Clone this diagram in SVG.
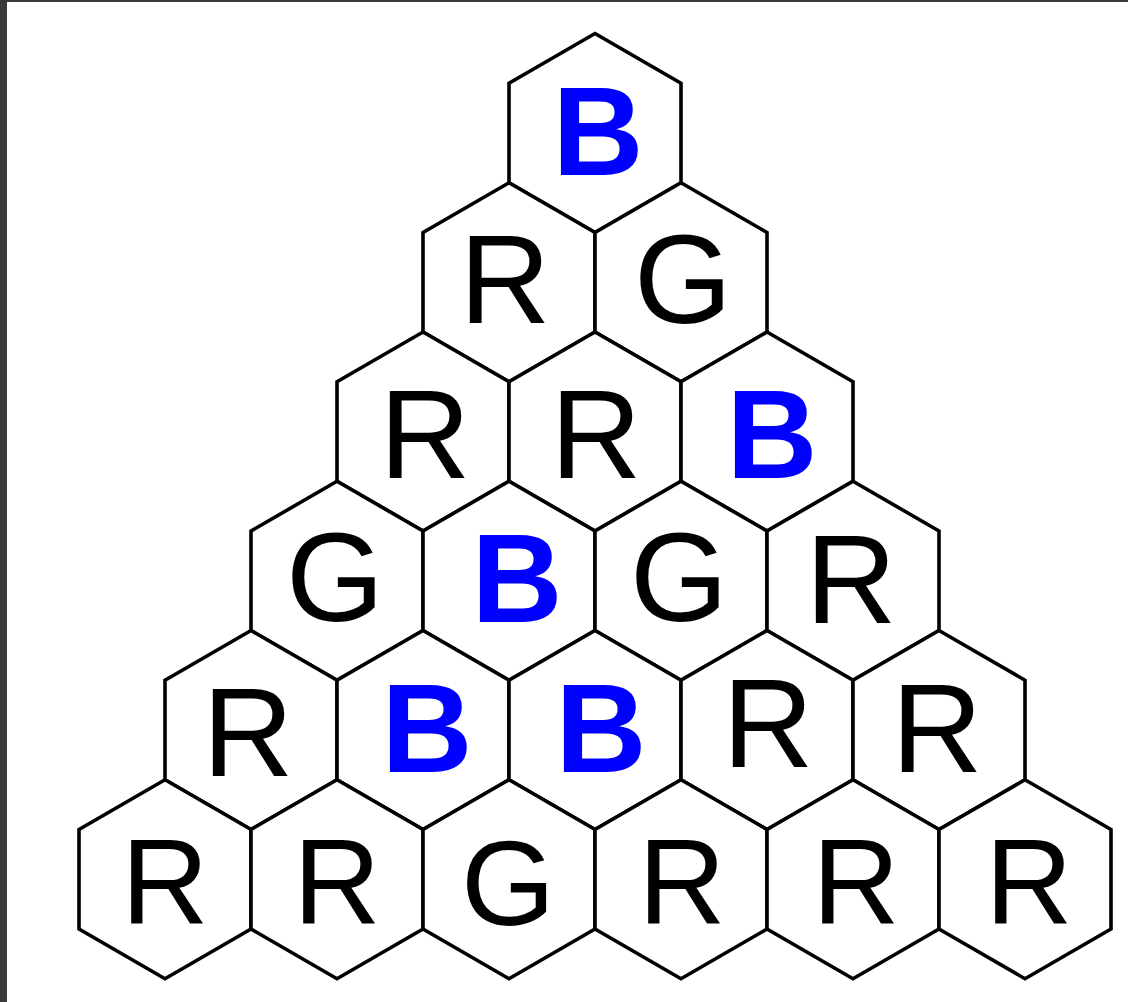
<svg xmlns="http://www.w3.org/2000/svg" xmlns:xlink="http://www.w3.org/1999/xlink" width="1128" height="1002" viewBox="0 0 1128 1002">
<style>
.hex{fill:#ffffff;stroke:#000000;stroke-width:3.6;stroke-linejoin:miter}
.t{font-family:"Liberation Sans",Arial,sans-serif;font-size:126px;text-anchor:middle;fill:#000000}
.b{font-weight:bold;fill:#0000ff}
.s{font-size:121px}
</style>
<defs>
<polygon id="hex" class="hex" points="0,-99.5 86,-49.75 86,49.75 0,99.5 -86,49.75 -86,-49.75"/>
</defs>
<rect x="0" y="0" width="1128" height="1002" fill="#ffffff"/>
<rect x="0" y="0" width="1128" height="2" fill="#3a3a3a"/>
<rect x="0" y="0" width="7" height="1002" fill="#3a3a3a"/>
<g id="connectors"/>
<g id="n0_0"><use xlink:href="#hex" x="595" y="133"/><text class="t b" x="598" y="175">B</text></g>
<g id="n1_0"><use xlink:href="#hex" x="509" y="282.25"/><text class="t" x="505" y="323">R</text></g>
<g id="n1_1"><use xlink:href="#hex" x="681" y="282.25"/><text class="t" x="683" y="323">G</text></g>
<g id="n2_0"><use xlink:href="#hex" x="423" y="431.5"/><text class="t" x="425" y="478">R</text></g>
<g id="n2_1"><use xlink:href="#hex" x="595" y="431.5"/><text class="t" x="596" y="478">R</text></g>
<g id="n2_2"><use xlink:href="#hex" x="767" y="431.5"/><text class="t b" x="772" y="478">B</text></g>
<g id="n3_0"><use xlink:href="#hex" x="337" y="580.75"/><text class="t" x="335" y="621">G</text></g>
<g id="n3_1"><use xlink:href="#hex" x="509" y="580.75"/><text class="t b" x="517" y="622">B</text></g>
<g id="n3_2"><use xlink:href="#hex" x="681" y="580.75"/><text class="t" x="679" y="621">G</text></g>
<g id="n3_3"><use xlink:href="#hex" x="853" y="580.75"/><text class="t" x="851" y="623">R</text></g>
<g id="n4_0"><use xlink:href="#hex" x="251" y="730"/><text class="t" x="248" y="776">R</text></g>
<g id="n4_1"><use xlink:href="#hex" x="423" y="730"/><text class="t b" x="427" y="772">B</text></g>
<g id="n4_2"><use xlink:href="#hex" x="595" y="730"/><text class="t b" x="601" y="772">B</text></g>
<g id="n4_3"><use xlink:href="#hex" x="767" y="730"/><text class="t" x="768" y="767">R</text></g>
<g id="n4_4"><use xlink:href="#hex" x="939" y="730"/><text class="t" x="937" y="772">R</text></g>
<g id="n5_0"><use xlink:href="#hex" x="165" y="879.25"/><text class="t s" x="165" y="924">R</text></g>
<g id="n5_1"><use xlink:href="#hex" x="337" y="879.25"/><text class="t s" x="337" y="924">R</text></g>
<g id="n5_2"><use xlink:href="#hex" x="509" y="879.25"/><text class="t s" x="508" y="925">G</text></g>
<g id="n5_3"><use xlink:href="#hex" x="681" y="879.25"/><text class="t s" x="682" y="924">R</text></g>
<g id="n5_4"><use xlink:href="#hex" x="853" y="879.25"/><text class="t s" x="856" y="924">R</text></g>
<g id="n5_5"><use xlink:href="#hex" x="1025" y="879.25"/><text class="t s" x="1029" y="924">R</text></g>
</svg>
